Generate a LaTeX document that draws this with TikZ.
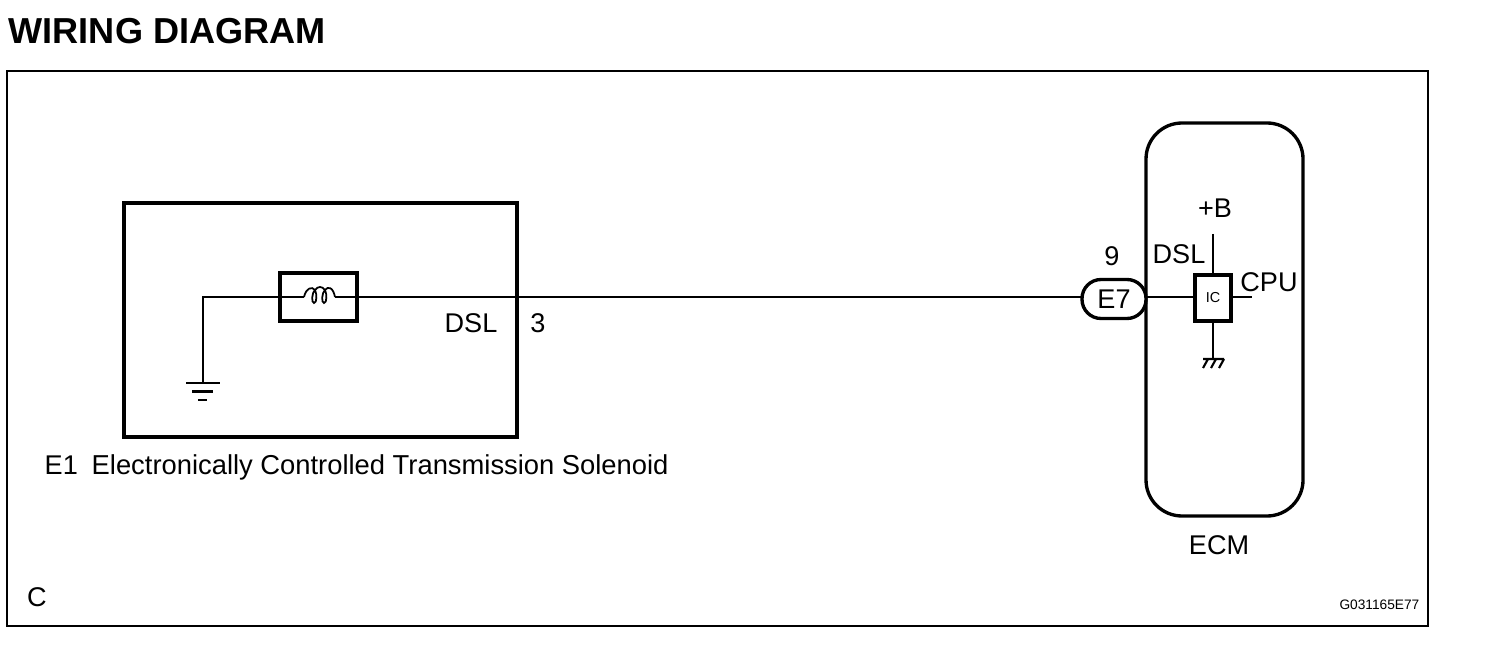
\documentclass[tikz,border=0pt]{standalone}
\usepackage{fontspec}
\setmainfont{Liberation Sans}
\usetikzlibrary{positioning}
\begin{document}
\begin{tikzpicture}[x=0.01cm,y=-0.01cm,
		wire/.style={line width=0.62pt},
		heavy/.style={draw=black,line width=0.95pt,inner sep=0pt,outer sep=0pt},
		lbl/.style={inner sep=0pt,font=\fontsize{7.7pt}{8pt}\selectfont},
		tiny/.style={inner sep=0pt,font=\fontsize{4.1pt}{5pt}\selectfont}]
		\useasboundingbox (0,0) rectangle (1504,646);
		\node[anchor=west,inner sep=0pt,font=\fontsize{10.27pt}{12pt}\bfseries\selectfont] (title) at (8,31) {WIRING DIAGRAM};
		\node[draw=black,line width=0.6pt,minimum width=1421*0.01cm,minimum height=555*0.01cm,inner sep=0pt,outer sep=0pt] (frame) at (717.5,348.5) {};

		\node[heavy,minimum width=393*0.01cm,minimum height=234*0.01cm] (solenoid) at (320.5,320) {};
		\node[heavy,minimum width=77*0.01cm,minimum height=48*0.01cm] (coilbox) at (318.5,297) {};
		\node[heavy,rounded corners=0.36cm,minimum width=157*0.01cm,minimum height=393*0.01cm] (ecm) at (1224.5,319.5) {};
		\node[heavy,rounded corners=0.19cm,fill=white,minimum width=64*0.01cm,minimum height=39*0.01cm,lbl] (e7) at (1114,299) {E7};
		\node[heavy,minimum width=36*0.01cm,minimum height=46*0.01cm,tiny] (ic) at (1213,298) {IC};

		\coordinate (coilin) at (304,297);
		\coordinate (coilout) at (335,297);
		\coordinate (gnd) at (203,383);
		\coordinate (supply) at (1213,234);
		\coordinate (cpuend) at (1252,297);
		\coordinate (icgnd) at (1213,358);

		\draw[wire] (gnd) |- (coilbox.west) -- (coilin);
		\draw[wire] (coilout) -- (coilbox.east) -- (e7.west |- coilout);
		\draw[wire,line width=0.8pt] (e7.east |- coilout) -- (ic.west |- coilout);
		\draw[wire] (supply) -- (ic.north);
		\draw[wire] (ic.east |- cpuend) -- (cpuend);
		\draw[wire] (ic.south) -- (icgnd);

		% coil
		\draw[line width=0.5pt] (coilin) .. controls (306,288) and (312,286) .. (315,290)
			.. controls (317,294) and (317,303) .. (314,303) .. controls (311,303) and (312,292) .. (315,290)
			.. controls (318,286) and (322,286) .. (325,290)
			.. controls (327,294) and (327,303) .. (324,303) .. controls (321,303) and (322,292) .. (325,290)
			.. controls (328,286) and (333,287) .. (coilout);

		% ground symbols
		\draw[line width=0.85pt] (186,383) -- (220,383) (192,391.5) -- (213,391.5) (198,400) -- (207,400);
		\draw[line width=0.6pt] (1203,359) -- (1224,359) (1208,359) -- (1203,368) (1216,359) -- (1211,368) (1224,359) -- (1219,368);

		\node[lbl,anchor=base] (dslleft) at (471,333) {DSL};
		\node[lbl,anchor=base] (pinleft) at (538,333) {3};
		\node[lbl,anchor=base west] (e1) at (44,474) {E1};
		\node[lbl,anchor=base west,font=\fontsize{7.78pt}{8pt}\selectfont] (e1name) at (91,474) {Electronically Controlled Transmission Solenoid};
		\node[lbl] (pinright) at (1112,256) {9};
		\node[lbl] (dslright) at (1179,254) {DSL};
		\node[lbl] (plusb) at (1215,208) {+B};
		\node[lbl] (cpu) at (1269,282) {CPU};
		\node[lbl] (ecmname) at (1219,545) {ECM};
		\node[lbl] (mark) at (37,597) {C};
		\node[inner sep=0pt,font=\fontsize{3.9pt}{5pt}\selectfont,anchor=east] (figno) at (1420,605) {G031165E77};
		\end{tikzpicture}
\end{document}
